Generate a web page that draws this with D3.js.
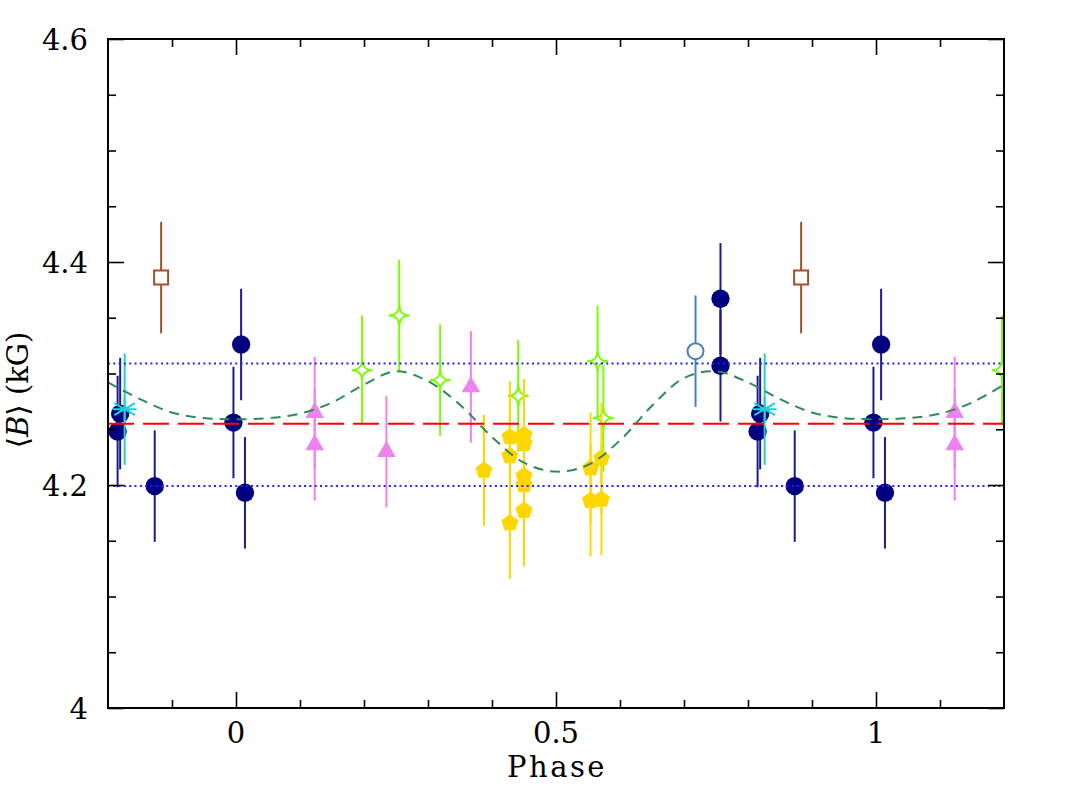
<!DOCTYPE html>
<html lang="en">
<head>
  <meta charset="utf-8"/>
  <script src="https://d3js.org/d3.v7.min.js"></script>
  <title>Mean field modulus vs phase</title>
  <style>
    body { margin: 0; background: #fff; }
    svg text { font-family: "DejaVu Serif", "Liberation Serif", serif; fill: #000; }
  </style>
</head>
<body>
<svg id="chart"></svg>
<script>
  const width = 1067;
  const height = 797;
  const margin = {top: 39, right: 63, bottom: 89, left: 108};

  // ---- data (phases folded to 0..1, repeated over -0.2..1.2 when drawn) ----
  const navyPhase = [0.757, 0.757, 0.815, 0.819, 0.873, 0.996, 0.008, 0.014];
  const navyB     = [4.367, 4.307, 4.248, 4.264, 4.199, 4.256, 4.326, 4.193];
  const navyErr   = [0.05, 0.05, 0.05, 0.05, 0.05, 0.05, 0.05, 0.05];

  const violetPhase = [0.123, 0.123, 0.235, 0.367];
  const violetB     = [4.265, 4.236, 4.230, 4.288];
  const violetErr   = [0.05, 0.05, 0.05, 0.05];

  const greenPhase = [0.197, 0.255, 0.319, 0.441, 0.565, 0.574];
  const greenB     = [4.303, 4.352, 4.294, 4.280, 4.311, 4.260];
  const greenErr   = [0.049, 0.05, 0.05, 0.05, 0.05, 0.048];

  const goldPhase = [0.3875, 0.428, 0.428, 0.428, 0.450, 0.450, 0.450, 0.450, 0.450, 0.554, 0.554, 0.571, 0.571];
  const goldB     = [4.213, 4.243, 4.226, 4.166, 4.245, 4.237, 4.208, 4.200, 4.177, 4.215, 4.186, 4.224, 4.187];
  const goldErr   = [0.05, 0.05, 0.05, 0.05, 0.05, 0.05, 0.05, 0.05, 0.05, 0.05, 0.05, 0.05, 0.05];

  const steelPhase = [0.718];
  const steelB     = [4.320];
  const steelErr   = [0.05];

  const brownPhase = [0.883];
  const brownB     = [4.386];
  const brownErr   = [0.05];

  const cyanPhase = [0.826];
  const cyanB     = [4.268];
  const cyanErr   = [0.05];

  // fitted curve
  const curvePhase = [-0.20, -0.15, -0.10, -0.05, 0.00, 0.05, 0.10, 0.15, 0.20, 0.25, 0.30, 0.35, 0.40,
                      0.45, 0.50, 0.55, 0.60, 0.65, 0.70, 0.75, 0.80, 0.85, 0.90, 0.95, 1.00, 1.05,
                      1.10, 1.15, 1.20];
  const curveB = [4.292, 4.277, 4.265, 4.260, 4.259, 4.260, 4.264, 4.274, 4.290, 4.302, 4.293, 4.272, 4.243,
                  4.220, 4.212, 4.218, 4.240, 4.271, 4.296, 4.302, 4.292, 4.277, 4.265, 4.260, 4.259, 4.260,
                  4.264, 4.274, 4.290];

  const meanB = 4.255;
  const sigmaLines = [4.309, 4.199];

  const xDomain = [-0.2, 1.2];
  const yDomain = [4.0, 4.6];
  const xMajorTicks = [0, 0.5, 1];
  const xMajorLabels = ["0", "0.5", "1"];
  const xMinorTicks = [-0.1, 0.1, 0.2, 0.3, 0.4, 0.6, 0.7, 0.8, 0.9, 1.1];
  const yMajorTicks = [4.0, 4.2, 4.4, 4.6];
  const yMajorLabels = ["4", "4.2", "4.4", "4.6"];
  const yMinorTicks = [4.05, 4.1, 4.15, 4.25, 4.3, 4.35, 4.45, 4.5, 4.55];

  const svg = d3.select("#chart")
    .attr("width", width)
    .attr("height", height);

  svg.append("rect").attr("width", width).attr("height", height).attr("fill", "#fff");

  const xScale = d3.scaleLinear().domain(xDomain).range([margin.left, width - margin.right]);
  const yScale = d3.scaleLinear().domain(yDomain).range([height - margin.bottom, margin.top]);

  svg.append("clipPath").attr("id", "plotclip")
    .append("rect")
    .attr("x", margin.left).attr("y", margin.top)
    .attr("width", width - margin.left - margin.right)
    .attr("height", height - margin.top - margin.bottom);

  const plot = svg.append("g").attr("clip-path", "url(#plotclip)");

  // ---- marker shapes ----
  function pentagonPath(r) {
    const pts = d3.range(5).map((k) => {
      const a = -Math.PI / 2 + k * 2 * Math.PI / 5;
      return [r * Math.cos(a), r * Math.sin(a)];
    });
    return "M" + pts.map((p) => p.join(",")).join("L") + "Z";
  }
  // four-pointed star with concave sides
  function starPath(r) {
    const c = r * 0.38;
    return `M0,${-r}C0,${-c} ${c},0 ${r},0` +
           `C${c},0 0,${c} 0,${r}` +
           `C0,${c} ${-c},0 ${-r},0` +
           `C${-c},0 0,${-c} 0,${-r}Z`;
  }
  function squarePath(h) {
    return `M${-h},${-h}H${h}V${h}H${-h}Z`;
  }
  function asteriskPath(r) {
    const a = r * Math.cos(Math.PI / 6), b = r * Math.sin(Math.PI / 6);
    return `M0,${-r}V${r}M${-a},${-b}L${a},${b}M${-a},${b}L${a},${-b}M${-r},0H${r}`;
  }

  const series = [
    {phase: navyPhase, b: navyB, err: navyErr, bar: "#1c1c8a",
     d: d3.symbol(d3.symbolCircle, 265)(), fill: "#000080", stroke: "none"},
    {phase: violetPhase, b: violetB, err: violetErr, bar: "#ee82ee",
     d: d3.symbol(d3.symbolTriangle, 150)(), fill: "#ee82ee", stroke: "none"},
    {phase: greenPhase, b: greenB, err: greenErr, bar: "#7cfc00",
     d: starPath(10.5), fill: "#fff", stroke: "#7cfc00"},
    {phase: goldPhase, b: goldB, err: goldErr, bar: "#ffd700",
     d: pentagonPath(9), fill: "#ffd700", stroke: "none"},
    {phase: steelPhase, b: steelB, err: steelErr, bar: "#4682b4",
     d: d3.symbol(d3.symbolCircle, 200)(), fill: "#fff", stroke: "#4682b4"},
    {phase: brownPhase, b: brownB, err: brownErr, bar: "#a0522d",
     d: squarePath(7), fill: "#fff", stroke: "#a0522d"},
    {phase: cyanPhase, b: cyanB, err: cyanErr, bar: "#1fd0d8",
     d: asteriskPath(12), fill: "none", stroke: "#1fd0d8"}
  ];

  series.forEach((s) => {
    // repeat each point one cycle before and after when inside the plotted range
    const pts = [];
    s.phase.forEach((p, i) => {
      [-1, 0, 1].forEach((shift) => {
        const ph = p + shift;
        if (ph >= xDomain[0] - 0.02 && ph <= xDomain[1] + 0.02) {
          pts.push({phase: ph, b: s.b[i], err: s.err[i]});
        }
      });
    });

    const g = plot.append("g");
    g.selectAll("line")
      .data(pts)
      .enter()
      .append("line")
        .attr("x1", (d) => xScale(d.phase))
        .attr("x2", (d) => xScale(d.phase))
        .attr("y1", (d) => yScale(d.b - d.err))
        .attr("y2", (d) => yScale(d.b + d.err))
        .attr("stroke", s.bar)
        .attr("stroke-width", 2);

    g.selectAll("path")
      .data(pts)
      .enter()
      .append("path")
        .attr("d", s.d)
        .attr("transform", (d) => "translate(" + xScale(d.phase) + "," + yScale(d.b) + ")")
        .attr("fill", s.fill)
        .attr("stroke", s.stroke)
        .attr("stroke-width", 2);
  });

  // ---- reference lines ----
  plot.append("line")
    .attr("x1", xScale(xDomain[0])).attr("x2", xScale(xDomain[1]))
    .attr("y1", yScale(meanB)).attr("y2", yScale(meanB))
    .attr("stroke", "#ff0000")
    .attr("stroke-width", 2)
    .attr("stroke-dasharray", "26,9");

  plot.selectAll(".sigma")
    .data(sigmaLines)
    .enter()
    .append("line")
      .attr("class", "sigma")
      .attr("x1", xScale(xDomain[0])).attr("x2", xScale(xDomain[1]))
      .attr("y1", (d) => yScale(d)).attr("y2", (d) => yScale(d))
      .attr("stroke", "#2222ff")
      .attr("stroke-width", 2)
      .attr("stroke-dasharray", "2,3.3");

  const curveLine = d3.line()
    .x((d, i) => xScale(curvePhase[i]))
    .y((d) => yScale(d))
    .curve(d3.curveCatmullRom);

  plot.append("path")
    .attr("d", curveLine(curveB))
    .attr("fill", "none")
    .attr("stroke", "#2e8b57")
    .attr("stroke-width", 2)
    .attr("stroke-dasharray", "10,7");

  // ---- axes: ticks on all four sides, pointing inward ----
  const x0 = margin.left, x1 = width - margin.right;
  const y0 = margin.top, y1 = height - margin.bottom;

  function tickAxis(axisFn, scale, values, size, transform) {
    svg.append("g")
      .attr("transform", transform)
      .call(axisFn(scale).tickValues(values).tickSize(-size).tickFormat(""))
      .call((g) => g.select(".domain").remove())
      .call((g) => g.selectAll("line").attr("stroke", "#000").attr("stroke-width", 1.6));
  }
  tickAxis(d3.axisBottom, xScale, xMajorTicks, 16, "translate(0," + y1 + ")");
  tickAxis(d3.axisBottom, xScale, xMinorTicks, 8, "translate(0," + y1 + ")");
  tickAxis(d3.axisTop, xScale, xMajorTicks, 16, "translate(0," + y0 + ")");
  tickAxis(d3.axisTop, xScale, xMinorTicks, 8, "translate(0," + y0 + ")");
  tickAxis(d3.axisLeft, yScale, yMajorTicks, 16, "translate(" + x0 + ",0)");
  tickAxis(d3.axisLeft, yScale, yMinorTicks, 8, "translate(" + x0 + ",0)");
  tickAxis(d3.axisRight, yScale, yMajorTicks, 16, "translate(" + x1 + ",0)");
  tickAxis(d3.axisRight, yScale, yMinorTicks, 8, "translate(" + x1 + ",0)");

  svg.append("rect")
    .attr("x", x0).attr("y", y0)
    .attr("width", x1 - x0).attr("height", y1 - y0)
    .attr("fill", "none")
    .attr("stroke", "#000")
    .attr("stroke-width", 2);

  // tick labels
  svg.append("g").selectAll("text")
    .data(xMajorTicks)
    .enter()
    .append("text")
      .attr("x", (d) => xScale(d))
      .attr("y", y1 + 35)
      .attr("text-anchor", "middle")
      .attr("font-size", 29)
      .text((d, i) => xMajorLabels[i]);

  svg.append("g").selectAll("text")
    .data(yMajorTicks)
    .enter()
    .append("text")
      .attr("x", x0 - 20)
      .attr("y", (d) => yScale(d) + 11)
      .attr("text-anchor", "end")
      .attr("font-size", 29)
      .text((d, i) => yMajorLabels[i]);

  // axis titles
  svg.append("text")
    .attr("x", (x0 + x1) / 2 + 1)
    .attr("y", y1 + 69)
    .attr("text-anchor", "middle")
    .attr("font-size", 29)
    .attr("letter-spacing", 2.5)
    .text("Phase");

  const yTitle = svg.append("text")
    .attr("transform", "translate(28,390) rotate(-90)")
    .attr("text-anchor", "middle")
    .attr("font-size", 29);
  yTitle.append("tspan").text("\u27e8");
  yTitle.append("tspan").attr("font-style", "italic").text("B");
  yTitle.append("tspan").text("\u27e9 (kG)");
</script>
</body>
</html>
